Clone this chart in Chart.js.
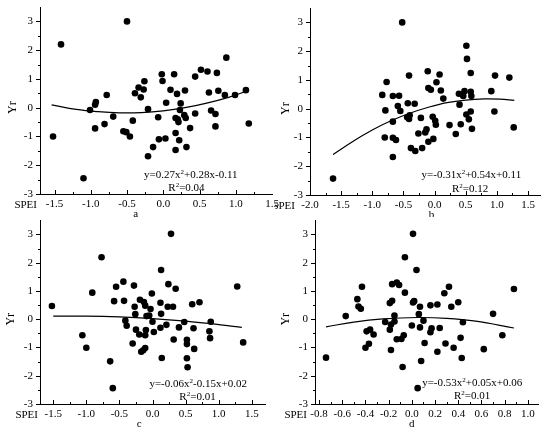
<!DOCTYPE html>
<html>
<head>
<meta charset="utf-8">
<script src="https://cdn.jsdelivr.net/npm/chart.js@4.4.1/dist/chart.umd.min.js"></script>
<style>
  body { margin: 0; background: #fff; }
  #wrap { position: relative; width: 550px; height: 434px; overflow: hidden; }
  canvas { position: absolute; }
</style>
</head>
<body>
<div id="wrap">
  <canvas id="pa" width="285" height="217" style="left:0;top:0"></canvas>
  <canvas id="pb" width="275" height="217" style="left:275px;top:0"></canvas>
  <canvas id="pc" width="285" height="217" style="left:0;top:217px"></canvas>
  <canvas id="pd" width="275" height="217" style="left:275px;top:217px"></canvas>
</div>
<script>
// valores (SPEI vs Yr)
const yTicks = [-3, -2, -1, 0, 1, 2, 3];

// panel a
const speiA = [-1.52, -1.41, -0.50, -1.10, -1.01, -0.93, -0.94, -0.94, -0.78, -0.81, -0.69, -0.42, -0.55, -0.51, -0.46,
  -0.39, -0.34, -0.31, -0.27, -0.26, -0.21, -0.21, -0.14, -0.07, -0.06, -0.02, -0.01, 0.03, 0.04, 0.10, 0.15, 0.17,
  0.17, 0.17, 0.19, 0.20, 0.21, 0.22, 0.23, 0.24, 0.29, 0.30, 0.31, 0.32, 0.37, 0.44, 0.44, 0.52, 0.61, 0.63, 0.66,
  0.72, 0.72, 0.74, 0.76, 0.87, 0.85, 0.99, 1.14, 1.18];
const yrA = [-1.00, 2.20, 3.00, -2.45, -0.08, 0.20, 0.10, -0.72, 0.44, -0.57, -0.31, -0.45, -0.82, -0.85, -1.00,
  0.50, 0.70, 0.36, 0.63, 0.92, -0.05, -1.69, -1.37, -0.33, -1.10, 1.16, 0.93, -1.07, 0.17, 0.62, 1.16, -0.36,
  -0.88, -1.47, 0.48, -0.40, -0.50, -1.13, -0.08, 0.15, -0.26, 0.60, -0.36, -1.37, -0.71, 1.08, -0.20, 1.32, 1.26, 0.53, -0.10,
  -0.22, -0.65, 1.21, 0.59, 1.74, 0.44, 0.44, 0.61, -0.55];
const fitXA = [-1.54, -1.2, -0.9, -0.6, -0.3, 0, 0.3, 0.6, 0.9, 1.18];
const fitYA = [0.10, -0.06, -0.14, -0.18, -0.17, -0.11, 0.00, 0.16, 0.36, 0.60];
const xTicksA = [-1.5, -1.0, -0.5, 0.0, 0.5, 1.0, 1.5];

// panel b
const speiB = [-1.63, -0.52, -0.84, -0.77, -0.79, -0.80, -0.67, -0.67, -0.67, -0.67, -0.62, -0.59, -0.57, -0.55, -0.43,
  -0.41, -0.44, -0.41, -0.40, -0.38, -0.32, -0.31, -0.26, -0.22, -0.20, -0.15, -0.13, -0.11, -0.10, -0.06, -0.10,
  -0.03, -0.02, 0.01, 0.02, 0.03, 0.08, 0.10, 0.14, 0.24, 0.34, 0.39, 0.40, 0.42, 0.48, 0.46, 0.51, 0.52, 0.51, 0.55,
  0.58, 0.58, 0.59, 0.58, 0.60, 0.96, 0.91, 0.97, 1.20, 1.27];
const yrB = [-2.43, 3.00, 0.48, 0.93, -0.06, -1.00, 0.44, -0.45, -1.01, -1.68, -1.09, 0.09, 0.45, -0.08, 0.19,
  1.15, -0.30, -0.36, -0.23, -1.37, 0.17, -1.47, -0.86, -0.32, -1.37, -0.83, -0.72, 1.30, 0.72, 0.66, -1.15,
  -0.28, -1.05, -0.42, -0.56, 0.92, 1.19, 0.63, 0.35, -0.57, -0.88, 0.52, 0.14, -0.54, 0.61, 0.44, 2.19, 1.73, -0.20, -0.37,
  1.24, 0.59, 0.44, -0.10, -0.70, -0.10, 0.61, 1.15, 1.08, -0.65];
const fitXB = [-1.63, -1.3, -1.0, -0.7, -0.4, -0.1, 0.2, 0.5, 0.8, 1.05, 1.28];
const fitYB = [-1.59, -1.12, -0.74, -0.42, -0.16, 0.05, 0.21, 0.30, 0.34, 0.33, 0.29];
const xTicksB = [-2.0, -1.5, -1.0, -0.5, 0.0, 0.5, 1.0, 1.5];

// panel c
const speiC = [-1.52, -1.06, -1.00, -0.91, -0.77, -0.64, -0.60, -0.58, -0.55, -0.44, -0.43, -0.41, -0.39, -0.30, -0.28,
  -0.27, -0.26, -0.25, -0.20, -0.19, -0.17, -0.14, -0.11, -0.13, -0.11, -0.11, -0.10, -0.09, -0.05, -0.03, -0.01,
  0.00, 0.02, 0.12, 0.12, 0.13, 0.13, 0.14, 0.21, 0.23, 0.24, 0.28, 0.31, 0.32, 0.35, 0.40, 0.48, 0.52, 0.52, 0.52,
  0.53, 0.60, 0.62, 0.63, 0.71, 0.86, 0.87, 0.88, 1.28, 1.37];
const yrC = [0.47, -0.57, -1.01, 0.94, 2.19, -1.49, -2.44, 0.64, 1.15, 1.33, 0.65, -0.05, -0.23, -0.86, 1.19,
  0.44, 0.18, -0.37, -0.54, 0.69, -1.15, -1.10, -1.02, 0.61, 0.48, -0.57, -0.38, 0.11, 0.13, 0.36, 0.91,
  -0.09, -0.45, -0.30, 0.58, 0.19, 1.74, -1.37, -0.20, 0.44, 1.24, 3.02, 0.44, -0.72, 1.08, -0.29, -0.10, -0.73, -0.88, -1.38,
  -1.70, 0.53, -0.32, -1.05, 0.60, -0.43, -0.67, -0.09, 1.16, -0.82];
const fitXC = [-1.5, -1.0, -0.5, 0, 0.5, 1.0, 1.35];
const fitYC = [0.11, 0.11, 0.08, 0.02, -0.07, -0.19, -0.29];
const xTicksC = [-1.5, -1.0, -0.5, 0.0, 0.5, 1.0, 1.5];

// panel d
const speiD = [-0.74, -0.57, -0.47, -0.46, -0.44, -0.43, -0.39, -0.37, -0.36, -0.40, -0.33, -0.23, -0.19, -0.19, -0.17,
  -0.18, -0.18, -0.17, -0.15, -0.15, -0.13, -0.11, -0.13, -0.09, -0.07, -0.08, -0.06, -0.06, 0.00, 0.01, 0.02,
  0.01, 0.04, 0.06, 0.07, 0.07, 0.05, 0.08, 0.10, 0.11, 0.16, 0.16, 0.17, 0.22, 0.22, 0.24, 0.28, 0.29, 0.32, 0.34,
  0.36, 0.40, 0.42, 0.44, 0.43, 0.62, 0.70, 0.78, 0.88];
const yrD = [-1.36, 0.11, 0.71, 0.45, 0.37, 1.15, -0.43, -0.87, -0.37, -1.01, -0.54, -0.10, -0.37, 0.57, 0.65,
  -0.19, -1.09, 1.24, 0.13, -0.08, 1.30, 1.21, -0.71, -0.70, -0.57, -1.69, 0.94, 2.19, -0.22, 0.59, 0.64,
  3.02, 1.74, 0.18, 0.44, -0.29, -2.44, -1.48, -0.05, -0.84, 0.49, -0.46, -0.32, 0.52, -1.15, -0.31, 0.92, -0.86, 1.15, 0.44,
  -1.01, 0.60, -0.66, -0.11, -1.37, -1.06, 0.19, -0.57, 1.07];
const fitXD = [-0.74, -0.5, -0.25, 0.05, 0.3, 0.55, 0.88];
const fitYD = [-0.27, -0.10, 0.01, 0.06, 0.03, -0.07, -0.31];
const xTicksD = [-0.8, -0.6, -0.4, -0.2, 0.0, 0.2, 0.4, 0.6, 0.8, 1.0];

const FONT = '"Liberation Serif", "Times New Roman", serif';

// texto con superíndice, centrado en cx
function drawParts(ctx, parts, cx, cy) {
  const big = '11px ' + FONT, small = '7px ' + FONT;
  let w = 0;
  parts.forEach(p => { ctx.font = p[1] ? small : big; w += ctx.measureText(p[0]).width; });
  let x = cx - w / 2;
  ctx.textAlign = 'left';
  ctx.textBaseline = 'alphabetic';
  parts.forEach(p => {
    ctx.font = p[1] ? small : big;
    ctx.fillText(p[0], x, p[1] ? cy - 4 : cy);
    x += ctx.measureText(p[0]).width;
  });
}

// ticks menores, SPEI, Yr, letra y ecuación
const decor = {
  id: 'decor',
  afterDraw(chart, args, o) {
    const { ctx, chartArea: ca } = chart;
    const sx = chart.scales.x, sy = chart.scales.y;
    ctx.save();
    ctx.strokeStyle = '#000';
    ctx.fillStyle = '#000';
    ctx.lineWidth = 1;

    const list = (major, min, max) => {
      const h = (major[1] - major[0]) / 2, out = [];
      [major[0] - h].concat(major).forEach((t, i) => {
        if (i > 0) out.push([t, 4]);
        out.push([t + h, 2]);
      });
      return out.filter(t => t[0] >= min - 1e-9 && t[0] <= max - 1e-9);
    };
    ctx.beginPath();
    list(o.xTicks, sx.min, sx.max).forEach(([v, len]) => {
      const px = Math.round(sx.getPixelForValue(v)) + 0.5;
      ctx.moveTo(px, ca.bottom);
      ctx.lineTo(px, ca.bottom - len);
    });
    list(yTicks, sy.min, sy.max).forEach(([v, len]) => {
      const py = Math.round(sy.getPixelForValue(v)) + 0.5;
      ctx.moveTo(ca.left, py);
      ctx.lineTo(ca.left - len, py);
    });
    ctx.stroke();

    ctx.font = '11px ' + FONT;
    ctx.textAlign = 'right';
    ctx.textBaseline = 'middle';
    ctx.fillText('SPEI', ca.left + o.speiDx, ca.bottom + 11);

    ctx.textAlign = 'center';
    ctx.fillText(o.letter, sx.getPixelForValue(o.letterX), ca.bottom + 20);

    ctx.save();
    ctx.font = '12px ' + FONT;
    ctx.translate(ca.left + o.yrDx, sy.getPixelForValue(0));
    ctx.rotate(-Math.PI / 2);
    ctx.fillText('Yr', 0, 0);
    ctx.restore();

    drawParts(ctx, o.eq, sx.getPixelForValue(o.eqX), sy.getPixelForValue(o.eqY) + 4);
    drawParts(ctx, o.r2, sx.getPixelForValue(o.r2X), sy.getPixelForValue(o.r2Y) + 4);
    ctx.restore();
  }
};

function panel(id, p) {
  const pts = p.xs.map((v, i) => ({ x: v, y: p.ys[i] }));
  const fit = p.fx.map((v, i) => ({ x: v, y: p.fy[i] }));
  return new Chart(document.getElementById(id), {
    type: 'scatter',
    data: {
      datasets: [
        { data: pts, backgroundColor: '#000', borderWidth: 0, pointRadius: 3.3, pointHoverRadius: 3.3 },
        { type: 'line', data: fit, borderColor: '#000', borderWidth: 1.2, pointRadius: 0, tension: 0.4, fill: false }
      ]
    },
    options: {
      responsive: false,
      animation: false,
      events: [],
      layout: { padding: { left: 0, top: p.top, right: p.right, bottom: 0 } },
      plugins: {
        legend: { display: false },
        tooltip: { enabled: false },
        decor: p.decor
      },
      scales: {
        x: {
          type: 'linear', min: p.xmin, max: p.xmax,
          afterBuildTicks: s => { s.ticks = p.xTicks.map(v => ({ value: v })); },
          afterFit: s => { s.height = p.h; s.paddingLeft = 0; s.paddingRight = 0; },
          grid: { display: false, drawTicks: false },
          border: { color: '#000', width: 1 },
          ticks: { color: '#000', font: { family: FONT, size: 11 }, padding: 4, maxRotation: 0, autoSkip: false,
                   callback: v => v.toFixed(1) }
        },
        y: {
          type: 'linear', min: -3, max: 3.5,
          afterBuildTicks: s => { s.ticks = yTicks.map(v => ({ value: v })); },
          afterFit: s => { s.width = p.w; s.paddingTop = 0; s.paddingBottom = 0; },
          grid: { display: false, drawTicks: false },
          border: { color: '#000', width: 1 },
          ticks: { color: '#000', font: { family: FONT, size: 11 }, padding: 7, autoSkip: false,
                   callback: v => String(v) }
        }
      }
    },
    plugins: [decor]
  });
}

panel('pa', {
  xs: speiA, ys: yrA, fx: fitXA, fy: fitYA, xTicks: xTicksA, xmin: -1.7, xmax: 1.5,
  top: 7, right: 13, h: 23, w: 40,
  decor: { xTicks: xTicksA, speiDx: -3, yrDx: -27, letter: 'a', letterX: -0.38,
    eq: [['y=0.27x', 0], ['2', 1], ['+0.28x-0.11', 0]], eqX: 0.38, eqY: -2.29,
    r2: [['R', 0], ['2', 1], ['=0.04', 0]], r2X: 0.32, r2Y: -2.77 }
});
panel('pb', {
  xs: speiB, ys: yrB, fx: fitXB, fy: fitYB, xTicks: xTicksB, xmin: -2.0, xmax: 1.7,
  top: 8, right: 9.5, h: 22, w: 35,
  decor: { xTicks: xTicksB, speiDx: -15, yrDx: -24, letter: 'b', letterX: -0.05,
    eq: [['y=-0.31x', 0], ['2', 1], ['+0.54x+0.11', 0]], eqX: 0.59, eqY: -2.27,
    r2: [['R', 0], ['2', 1], ['=0.12', 0]], r2X: 0.57, r2Y: -2.75 }
});
panel('pc', {
  xs: speiC, ys: yrC, fx: fitXC, fy: fitYC, xTicks: xTicksC, xmin: -1.7, xmax: 1.7,
  top: 1, right: 20, h: 30, w: 40,
  decor: { xTicks: xTicksC, speiDx: -2, yrDx: -29, letter: 'c', letterX: -0.2,
    eq: [['y=-0.06x', 0], ['2', 1], ['-0.15x+0.02', 0]], eqX: 0.69, eqY: -2.27,
    r2: [['R', 0], ['2', 1], ['=0.01', 0]], r2X: 0.68, r2Y: -2.73 }
});
panel('pd', {
  xs: speiD, ys: yrD, fx: fitXD, fy: fitYD, xTicks: xTicksD, xmin: -0.835, xmax: 1.09,
  top: 1.5, right: 11.7, h: 30, w: 40,
  decor: { xTicks: xTicksD, speiDx: -8, yrDx: -29, letter: 'd', letterX: 0.0,
    eq: [['y=-0.53x', 0], ['2', 1], ['+0.05x+0.06', 0]], eqX: 0.52, eqY: -2.22,
    r2: [['R', 0], ['2', 1], ['=0.01', 0]], r2X: 0.52, r2Y: -2.68 }
});
</script>
</body>
</html>
